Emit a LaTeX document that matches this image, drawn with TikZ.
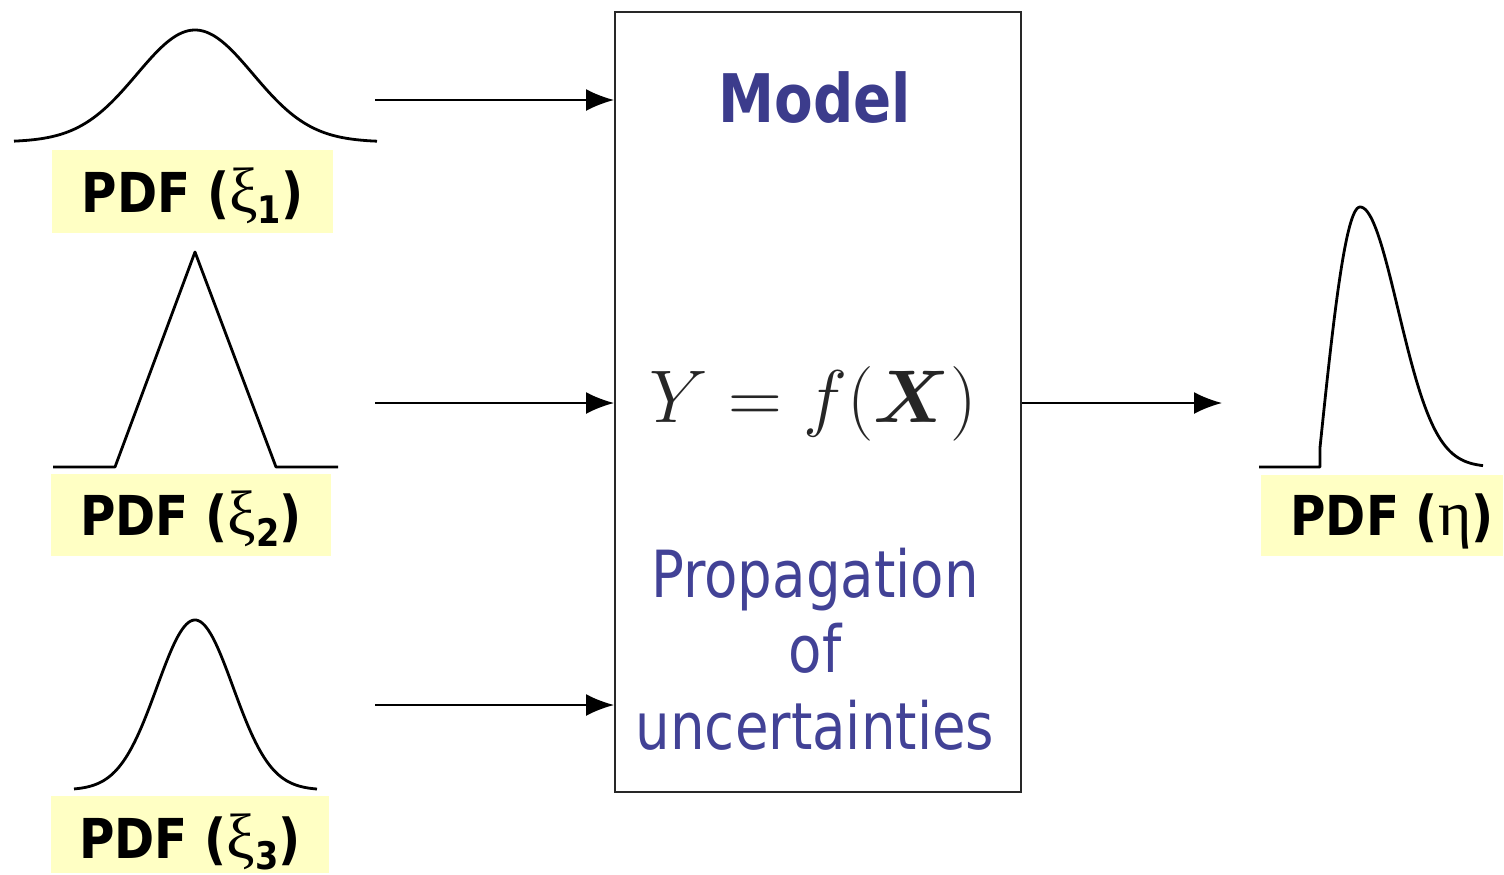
\documentclass[tikz,border=0pt]{standalone}
\usepackage{amsmath}
\usepackage{bm}
\usepackage{graphicx}
\usepackage{fontspec}
\newfontfamily\tah[FakeStretch=0.84]{DejaVu Sans}
\newfontfamily\tahb[FakeStretch=0.88]{DejaVu Sans}
\newfontfamily\grk{Liberation Serif}
\usetikzlibrary{arrows.meta}
\definecolor{mblue}{RGB}{60,60,140}
\definecolor{pblue}{RGB}{66,66,150}
\definecolor{lyel}{RGB}{255,255,196}
\definecolor{boxgray}{RGB}{40,40,40}
\newcommand{\lblfont}{\tahb\bfseries\fontsize{27.5}{30}\selectfont}
\newcommand{\subnum}[1]{\raisebox{-0.2em}{\fontsize{19}{22}\selectfont #1}}
\newcommand{\gx}[1]{{\grk\mdseries\fontsize{32}{34}\selectfont #1}}
\begin{document}
\begin{tikzpicture}[x=0.5pt,y=-0.5pt,
  curve/.style={line width=1.4pt,line join=round},
  arr/.style={line width=1pt,-{Latex[length=14pt,width=11pt]}},
  lbl/.style={fill=lyel,anchor=base,inner xsep=0pt,inner ysep=0pt,font=\lblfont},
  bluetext/.style={text=pblue,anchor=base,inner sep=0pt,font=\tah\fontsize{32.5}{38}\selectfont}]
\useasboundingbox (0,0) rectangle (1504,874);

% model box
\node[draw=boxgray,line width=1pt,minimum width=203pt,minimum height=390pt,inner sep=0pt] (model) at (818,402) {};
\node[text=mblue,anchor=base,inner sep=0pt,font=\tah\bfseries\fontsize{33.5}{40}\selectfont] (mtitle) at (815,122) {Model};
\node[text=black!85,anchor=base,inner sep=0pt,font=\Huge] (formula) at (813,422) {\scalebox{1.5}{$Y=f(\bm{X})$}};
\node[bluetext] (prop1) at (815,597) {Propagation};
\node[bluetext] (prop2) at (815,672) {of};
\node[bluetext] (prop3) at (815,749) {uncertainties};

% input curves
\draw[curve] plot[domain=14:377,samples=120,smooth] (\x,{142-112*exp(-(((\x-195)/58)^2)/2)});
\draw[curve] (53,467) -- (115,467) -- (195,252) -- (276,467) -- (338,467);
\draw[curve] plot[domain=74:317,samples=120,smooth] (\x,{790-170*exp(-(((\x-195)/38)^2)/2)});

% output curve
\draw[curve] (1259,467) -- (1320,467)
  -- plot[domain=1320:1360,samples=40,smooth] (\x,{467-260*cos(90*(1360-\x)/42)})
  -- plot[domain=1360:1483,samples=80,smooth] (\x,{467-260*exp(-(((\x-1360)/38)^2)/2)});

% labels
\node[lbl,minimum width=140.5pt,text height=31pt,text depth=10.5pt] (l1) at (192.5,212) {PDF (\gx{ξ}\subnum{1})};
\node[lbl,minimum width=140pt,text height=30.5pt,text depth=10.5pt] (l2) at (191,535) {PDF (\gx{ξ}\subnum{2})};
\node[lbl,minimum width=139pt,text height=31pt,text depth=7.5pt] (l3) at (190,858) {PDF (\gx{ξ}\subnum{3})};
\node[lbl,minimum width=121pt,text height=30pt,text depth=10.5pt] (l4) at (1382,535) {\hspace*{10pt}PDF (\gx{η})};

% connectors
\coordinate (a1) at (375,100);
\coordinate (a2) at (375,403);
\coordinate (a3) at (375,705);
\coordinate (out) at (1222,403);
\draw[arr] (a1) -- (a1 -| model.west);
\draw[arr] (a2) -- (a2 -| model.west);
\draw[arr] (a3) -- (a3 -| model.west);
\draw[arr] (out -| model.east) -- (out);
\end{tikzpicture}
\end{document}
